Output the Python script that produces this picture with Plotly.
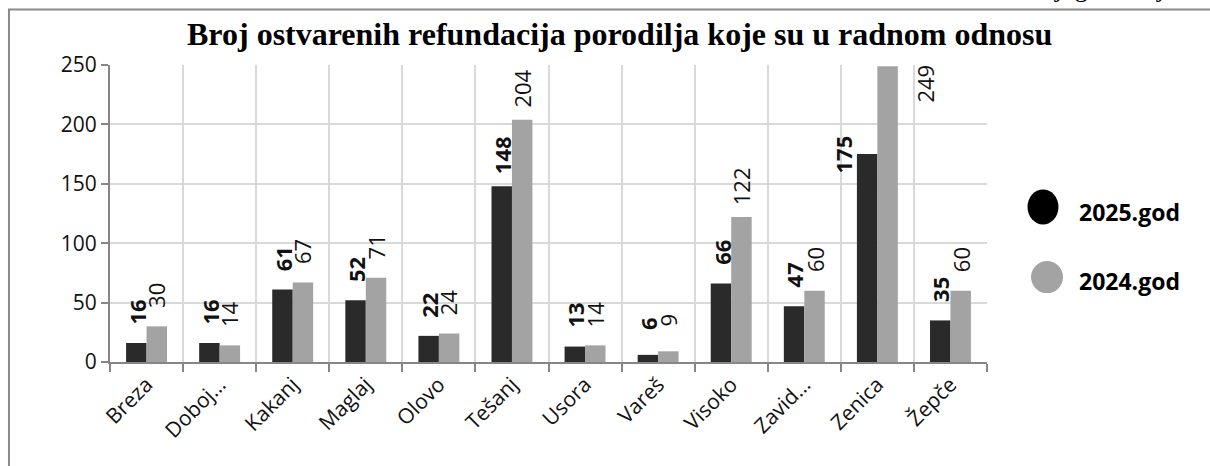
import plotly.graph_objects as go

# data
CATEGORIES = ["Breza", "Doboj…", "Kakanj", "Maglaj", "Olovo", "Tešanj",
              "Usora", "Vareš", "Visoko", "Zavid…", "Zenica", "Žepče"]
VALUES_2025 = [16, 16, 61, 52, 22, 148, 13, 6, 66, 47, 175, 35]
VALUES_2024 = [30, 14, 67, 71, 24, 204, 14, 9, 122, 60, 249, 60]
SERIES_NAMES = ["2025.god", "2024.god"]
TITLE = "Broj ostvarenih refundacija porodilja koje su u radnom odnosu"
Y_TICKS = [0, 50, 100, 150, 200, 250]

DARK = "#2a2a2a"
GREY = "#a3a3a3"
AXIS = "#868686"
GRID = "#d9d9d9"
SANS = "Open Sans, DejaVu Sans, sans-serif"
SERIF = "Liberation Serif, Times New Roman, serif"

fig = go.Figure()
fig.add_trace(go.Bar(x=CATEGORIES, y=VALUES_2025, name=SERIES_NAMES[0],
                     marker=dict(color=DARK, line=dict(width=0))))
fig.add_trace(go.Bar(x=CATEGORIES, y=VALUES_2024, name=SERIES_NAMES[1],
                     marker=dict(color=GREY, line=dict(width=0))))

# rotated value labels above each bar
annotations = []
for cat, v1, v2 in zip(CATEGORIES, VALUES_2025, VALUES_2024):
    s1 = dict(xshift=-10, yshift=31)
    s2 = dict(xshift=10, yshift=31)
    if cat == "Zenica":  # Excel put these two off to the sides
        s1 = dict(xshift=-34, yshift=0)
        s2 = dict(xshift=48, yshift=-17)
    annotations.append(dict(x=cat, y=v1, text=f"<b>{v1}</b>", showarrow=False,
                            textangle=-90, xanchor="center", yanchor="middle",
                            font=dict(family=SANS, size=22, color="#111"), **s1))
    annotations.append(dict(x=cat, y=v2, text=str(v2), showarrow=False,
                            textangle=-90, xanchor="center", yanchor="middle",
                            font=dict(family=SANS, size=22, color="#111"), **s2))

annotations.append(dict(xref="paper", yref="paper", x=0.5815, y=1.103,
                        text=f"<b>{TITLE}</b>", showarrow=False,
                        xanchor="center", yanchor="middle",
                        font=dict(family=SERIF, size=32, color="#000")))
# text of the page above the chart, cut off at the top edge
annotations.append(dict(xref="paper", yref="paper", x=1.228, y=1.205,
                        text="jaga i broj 3", showarrow=False,
                        xanchor="right", yanchor="bottom",
                        font=dict(family=SERIF, size=27, color="#000")))
# legend drawn by hand: big round markers like the original
annotations.append(dict(xref="paper", yref="paper", x=1.1026, y=0.505,
                        text=f"<b>{SERIES_NAMES[0]}</b>", showarrow=False,
                        xanchor="left", yanchor="middle",
                        font=dict(family=SANS, size=23, color="#000")))
annotations.append(dict(xref="paper", yref="paper", x=1.1026, y=0.274,
                        text=f"<b>{SERIES_NAMES[1]}</b>", showarrow=False,
                        xanchor="left", yanchor="middle",
                        font=dict(family=SANS, size=23, color="#000")))

shapes = [
    dict(type="rect", xref="paper", yref="paper", x0=-0.1152, y0=-0.4,
         x1=1.27, y1=1.187, line=dict(color="#8a8a8a", width=2), layer="below"),
    dict(type="circle", xref="paper", yref="paper", x0=1.0462, x1=1.0815,
         y0=0.463, y1=0.581, fillcolor="#000", line=dict(width=0)),
    dict(type="circle", xref="paper", yref="paper", x0=1.0502, x1=1.0867,
         y0=0.232, y1=0.340, fillcolor=GREY, line=dict(width=0)),
]

fig.update_layout(
    width=1210, height=466,
    margin=dict(l=110, r=223, t=65, b=104),
    barmode="group", bargap=0.44, bargroupgap=0,
    showlegend=False,
    plot_bgcolor="white", paper_bgcolor="white",
    annotations=annotations, shapes=shapes,
    font=dict(family=SANS, color="#111"),
)
fig.update_xaxes(
    type="category", tickson="boundaries", tickangle=-45,
    ticks="outside", ticklen=8, tickcolor=AXIS, tickwidth=2,
    showline=True, linecolor=AXIS, linewidth=2,
    showgrid=True, gridcolor=GRID, gridwidth=2,
    tickfont=dict(family=SANS, size=21, color="#111"),
)
fig.update_yaxes(
    range=[0, 250], tickvals=Y_TICKS,
    ticks="outside", ticklen=7, tickcolor=AXIS, tickwidth=2,
    showline=True, linecolor=AXIS, linewidth=2,
    showgrid=True, gridcolor=GRID, gridwidth=2, zeroline=False,
    tickfont=dict(family=SANS, size=21, color="#111"),
)

# drop the default page margin so the figure sits at the window's corner
fig.write_html("out.html", config={"displayModeBar": False},
               post_script="document.body.style.margin='0';")
